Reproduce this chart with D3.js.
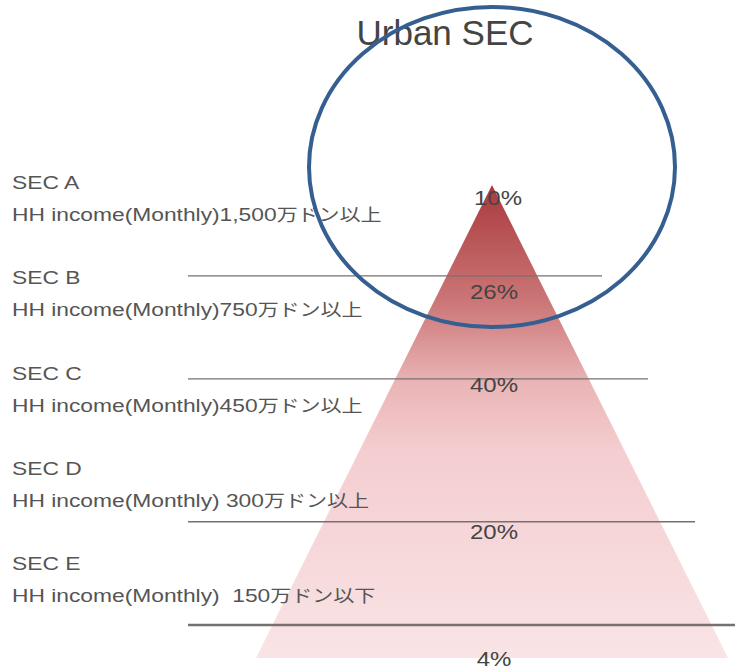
<!DOCTYPE html>
<html>
<head>
<meta charset="utf-8">
<script src="https://cdn.jsdelivr.net/npm/d3@7"></script>
<style>
  body { margin: 0; background: #fff; }
  svg { display: block; }
</style>
</head>
<body>
<div id="viz"></div>
<script>
// data
var categories = ["SEC A", "SEC B", "SEC C", "SEC D", "SEC E"];
var incomes = [
  "HH income(Monthly)1,500万ドン以上",
  "HH income(Monthly)750万ドン以上",
  "HH income(Monthly)450万ドン以上",
  "HH income(Monthly) 300万ドン以上",
  "HH income(Monthly)  150万ドン以下"
];
var shares = [10, 26, 40, 20, 4];

// layout (fractions of the pyramid height, apex = 0, base = 1)
var sepPos = [0.192, 0.410, 0.712, 0.930];
var sepEnd = [602, 648, 695, 740];
var sepWidth = [1.3, 1.3, 1.5, 2.5];
var pctPos = [0.042, 0.241, 0.438, 0.748, 1.017];

var width = 735, height = 671;
var stretch = 1.2; // text in the picture is a little wide

var svg = d3.select("#viz")
  .append("svg")
    .attr("width", width)
    .attr("height", height);

// scales
var yP = d3.scaleLinear().domain([0, 1]).range([185, 658]);
var halfW = d3.scaleLinear().domain([0, 1]).range([0, 236]);
var cx = 492;
var rowY = d3.scalePoint().domain(categories).range([189, 570]);

// gradient for the pyramid
var grad = svg.append("defs").append("linearGradient")
  .attr("id", "pyr")
  .attr("x1", 0).attr("y1", 0).attr("x2", 0).attr("y2", 1);
[[0, "#a9393d"], [0.25, "#cc7778"], [0.42, "#eab5b6"], [0.56, "#f4cdd0"], [1, "#f9e4e5"]]
  .forEach(function(s) {
    grad.append("stop").attr("offset", s[0]).attr("stop-color", s[1]);
  });

// title
svg.append("text")
  .attr("x", 445)
  .attr("y", 45)
  .attr("text-anchor", "middle")
  .style("font-family", "Liberation Sans, Arial, sans-serif")
  .style("font-size", "35px")
  .style("fill", "#444")
  .text("Urban SEC");

// pyramid
svg.append("path")
  .attr("d", d3.line()([
    [cx, yP(0)],
    [cx + halfW(1), yP(1)],
    [cx - halfW(1), yP(1)]
  ]) + "Z")
  .attr("fill", "url(#pyr)");

// separator lines
svg.selectAll(".sep")
  .data(sepPos)
  .enter().append("line")
    .attr("class", "sep")
    .attr("x1", 188)
    .attr("x2", function(d, i) { return sepEnd[i]; })
    .attr("y1", function(d) { return yP(d); })
    .attr("y2", function(d) { return yP(d); })
    .attr("stroke", "#767070")
    .attr("stroke-width", function(d, i) { return sepWidth[i]; });

// left labels
var rows = svg.selectAll(".row")
  .data(categories)
  .enter().append("g")
    .attr("class", "row");

rows.append("text")
  .attr("transform", function(d) { return "translate(12," + rowY(d) + ") scale(" + stretch + ",1)"; })
  .style("font-family", "Liberation Sans, Arial, sans-serif")
  .style("font-size", "19px")
  .style("fill", "#555")
  .text(function(d) { return d; });

var inc = rows.append("text")
  .attr("transform", function(d) { return "translate(12," + (rowY(d) + 32) + ") scale(" + stretch + ",1)"; })
  .style("font-family", "Liberation Sans, Arial, 'Noto Sans CJK JP', sans-serif")
  .style("font-size", "19px")
  .style("fill", "#555")
  .style("white-space", "pre");

// latin part and japanese part (the japanese glyphs are a bit smaller)
inc.append("tspan")
  .text(function(d, i) { return incomes[i].match(/^[^\u3000-\u9fff]*/)[0]; });
inc.append("tspan")
  .style("font-family", "'Noto Sans CJK JP', sans-serif")
  .style("font-size", "17.5px")
  .text(function(d, i) { return incomes[i].replace(/^[^\u3000-\u9fff]*/, ""); });

// percentages
svg.selectAll(".pct")
  .data(shares)
  .enter().append("text")
    .attr("class", "pct")
    .attr("text-anchor", "middle")
    .attr("transform", function(d, i) { return "translate(" + (i == 0 ? cx + 6 : cx + 2) + "," + yP(pctPos[i]) + ") scale(" + stretch + ",1)"; })
    .style("font-family", "Liberation Sans, Arial, sans-serif")
    .style("font-size", "20px")
    .style("fill", "#444")
    .text(function(d) { return d + "%"; });

// highlight ellipse round the top tier
svg.append("ellipse")
  .attr("cx", cx)
  .attr("cy", 167)
  .attr("rx", 183)
  .attr("ry", 160)
  .attr("fill", "none")
  .attr("stroke", "#365f91")
  .attr("stroke-width", 4);
</script>
</body>
</html>
